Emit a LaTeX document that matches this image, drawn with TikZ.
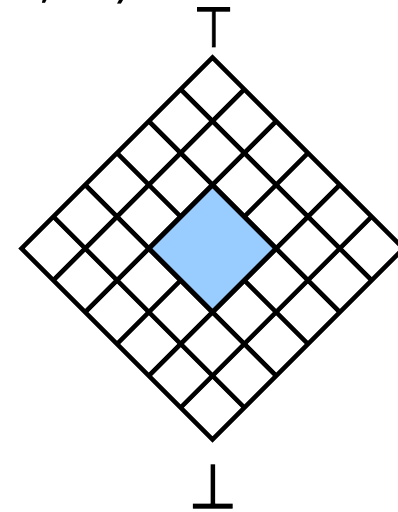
\documentclass[tikz,border=0pt]{standalone}
\usepackage{fontspec}
\newfontfamily\djv{DejaVu Sans}
\newfontfamily\djvfb[FakeBold=2]{DejaVu Sans}
\definecolor{cellblue}{RGB}{153,204,255}
\begin{document}
\begin{tikzpicture}[x=1pt,y=-1pt,
  gridline/.style={line width=4.5pt, draw=black, line join=miter},
  tack/.style={inner sep=0pt, outer sep=0pt, font=\djv}]
\useasboundingbox (0,0) rectangle (398,512);
\clip (0,0) rectangle (398,512);
\begin{scope}[shift={(212.5,57.5)}, x={(31.83pt,-31.83pt)}, y={(-31.83pt,-31.83pt)}]
  \fill[cellblue] (2,2)--(4,2)--(4,4)--(2,4)--cycle;
  \foreach \i in {1,2,4,5} {
    \draw[gridline] (\i,0)--(\i,6);
    \draw[gridline] (0,\i)--(6,\i);
  }
  \draw[gridline] (3,0)--(3,2) (3,4)--(3,6) (0,3)--(2,3) (4,3)--(6,3);
  \draw[gridline] (0,0)--(6,0)--(6,6)--(0,6)--cycle;
  \draw[gridline] (2,2)--(4,2)--(4,4)--(2,4)--cycle;
\end{scope}
\node[tack, anchor=south] (topel) at (213.7,46.7) {\resizebox{40pt}{39pt}{\djvfb ⊤}};
\node[tack, anchor=south] (botel) at (212.8,508) {\resizebox{48pt}{43pt}{\djvfb ⊥}};
\node[tack, anchor=base west, font=\djv\fontsize{50}{50}\selectfont] (pair) at (-25,-3) {(⊥, ⊤)};
\end{tikzpicture}
\end{document}
